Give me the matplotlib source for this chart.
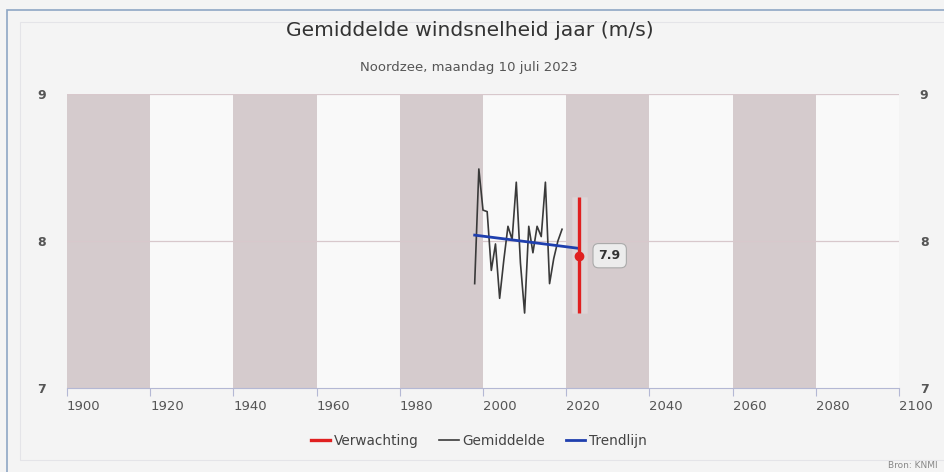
import matplotlib.pyplot as plt
from matplotlib.lines import Line2D
from matplotlib.patches import Rectangle
import numpy as np

# jaarlijkse gemiddelde windsnelheid Noordzee (m/s)
jaren = list(range(1998, 2020))
gemiddelde = [7.71, 8.49, 8.21, 8.20, 7.80, 7.98, 7.61, 7.87, 8.10, 8.01, 8.40,
              7.85, 7.51, 8.10, 7.92, 8.10, 8.03, 8.40, 7.71, 7.88, 8.00, 8.08]

trend_jaren = [1998, 2023]
trend_waarden = [8.04, 7.95]

verwachting_jaar = 2023
verwachting = 7.9
verwachting_min = 7.51
verwachting_max = 8.30

band_starts = [1900, 1940, 1980, 2020, 2060]
xticks = list(range(1900, 2101, 20))
yticks = [7, 8, 9]

W, H = 945, 472
fig = plt.figure(figsize=(W / 100, H / 100), dpi=100, facecolor='#f4f4f4')
plt.rcParams['font.family'] = ['DejaVu Sans']

# frame lines round the chart
fig.add_artist(Rectangle((7 / W, -0.1), 1.2, (H - 10) / H + 0.1, transform=fig.transFigure,
                         fill=False, edgecolor='#8fa6c4', linewidth=1.2))
fig.add_artist(Rectangle((20 / W, 1 - 460 / H), 1.2, (460 - 22) / H,
                         transform=fig.transFigure, fill=False, edgecolor='#e4e4e8', linewidth=0.8))

ax = fig.add_axes([67 / W, 1 - 388 / H, (899 - 67) / W, (388 - 94) / H])
ax.set_facecolor('#f9f9f9')
ax.set_xlim(1900, 2100)
ax.set_ylim(7, 9)

for s in band_starts:
    ax.axvspan(s, s + 20, color='#d5cbcd', zorder=0, linewidth=0)

for y in yticks[1:]:
    ax.axhline(y, color='#d8c8cc', linewidth=0.9, zorder=1)

# faint band round the forecast
ax.add_patch(Rectangle((2021.3, verwachting_min), 3.6, verwachting_max - verwachting_min,
                       facecolor='white', alpha=0.2, edgecolor='#e8d6dc', linewidth=0.7, zorder=2))

ax.plot(jaren, gemiddelde, color='#3a3a3a', linewidth=1.2, zorder=3)
ax.plot(trend_jaren, trend_waarden, color='#1f3fae', linewidth=2, zorder=4)
ax.vlines(verwachting_jaar, verwachting_min, verwachting_max, color='#e02020', linewidth=2.4, zorder=5)
ax.plot(verwachting_jaar, verwachting, 'o', color='#e02020', markersize=6, zorder=6)
ax.annotate('%.1f' % verwachting, (verwachting_jaar, verwachting), xytext=(31, 0),
            textcoords='offset pixels', ha='center', va='center', fontsize=9,
            fontweight='bold', color='#333333',
            bbox=dict(boxstyle='round,pad=0.45', fc='#ececec', ec='#aaaaaa', lw=0.8), zorder=7)

for sp in ['top', 'left', 'right']:
    ax.spines[sp].set_visible(False)
ax.spines['bottom'].set_color('#b4b8d4')

ax.set_xticks(xticks)
ax.set_xticklabels([str(x) for x in xticks], ha='left')
ax.tick_params(axis='x', length=6, color='#b4b8d4', labelsize=9.5, labelcolor='#555555', pad=3)
ax.set_yticks(yticks)
ax.tick_params(axis='y', length=0, labelsize=9, labelcolor='#555555',
               labelleft=True, labelright=True, pad=15)
for lab in ax.get_yticklabels():
    lab.set_fontweight('bold')

fig.text(470 / W, 1 - 31 / H, 'Gemiddelde windsnelheid jaar (m/s)', ha='center', va='center',
         fontsize=14.6, color='#333333')
fig.text(469 / W, 1 - 67 / H, 'Noordzee, maandag 10 juli 2023', ha='center', va='center',
         fontsize=9.5, color='#555555')

handles = [Line2D([], [], color='#e02020', linewidth=2.4),
           Line2D([], [], color='#3a3a3a', linewidth=1.2),
           Line2D([], [], color='#1f3fae', linewidth=2)]
fig.legend(handles, ['Verwachting', 'Gemiddelde', 'Trendlijn'], loc='center',
           bbox_to_anchor=(479 / W, 1 - 441 / H), ncol=3, frameon=False, fontsize=9.8,
           handlelength=1.4, handletextpad=0.3, columnspacing=1.5, labelcolor='#444444')

fig.text(938 / W, 1 - 466 / H, 'Bron: KNMI', ha='right', va='center', fontsize=6.5, color='#888888')

fig.savefig('out.png', dpi=100, facecolor=fig.get_facecolor())
